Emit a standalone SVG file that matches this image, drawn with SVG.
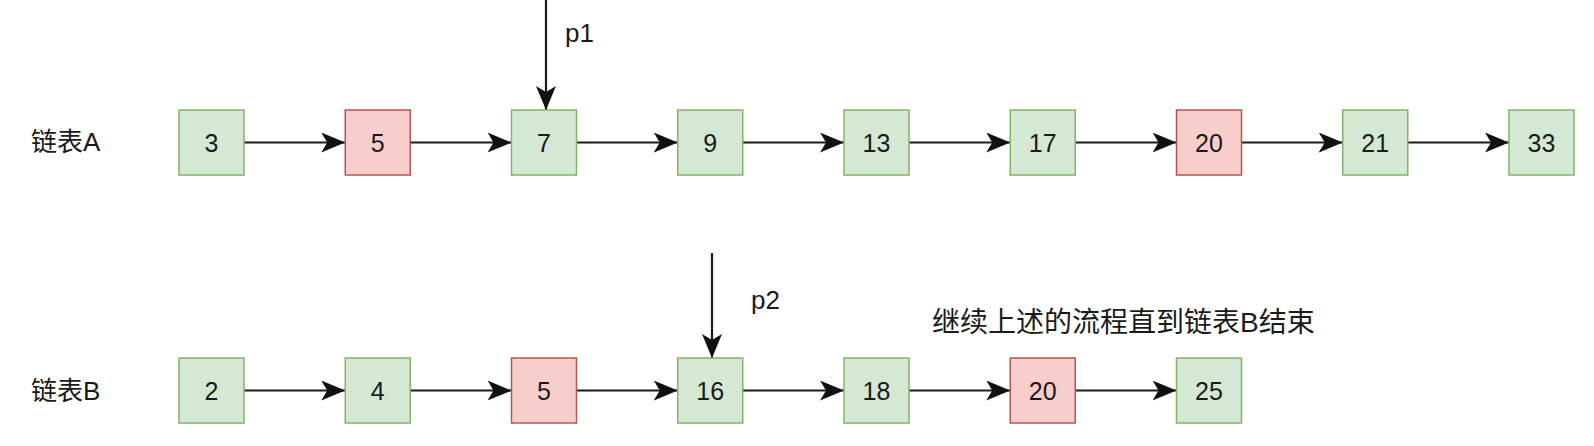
<svg xmlns="http://www.w3.org/2000/svg" width="1594" height="446" viewBox="0 0 1594 446">
<defs>
<marker id="arr" markerUnits="userSpaceOnUse" markerWidth="26" markerHeight="22" refX="24" refY="10" orient="auto">
<path d="M0,0 L24,10 L0,20 L6,10 Z" fill="#111"/>
</marker>
<style>
.g rect{fill:#d5e8d4;stroke:#82b366;stroke-width:1.5}
.r rect{fill:#f8cecc;stroke:#b85450;stroke-width:1.5}
.n text{font-family:"Liberation Sans",Arial,sans-serif;font-size:25px;fill:#1a1a1a;text-anchor:middle;dominant-baseline:central}
.lbl{font-family:"Liberation Sans","Noto Sans CJK SC",sans-serif;font-size:26px;fill:#1a1a1a;dominant-baseline:central}
.e line{stroke:#1a1a1a;stroke-width:2.2;marker-end:url(#arr)}
</style>
</defs>
<rect width="1594" height="446" fill="#fff"/>
<text class="lbl" x="31" y="142">链表A</text>
<text class="lbl" x="31" y="391">链表B</text>
<text class="lbl" x="565" y="33">p1</text>
<text class="lbl" x="751" y="300">p2</text>
<text class="lbl" x="932" y="322" style="font-size:28px">继续上述的流程直到链表B结束</text>
<g id="connectors" class="e">
<line x1="546" y1="0" x2="546" y2="110"/>
<line x1="712" y1="253" x2="712" y2="358"/>
<line x1="244" y1="142.5" x2="345.25" y2="142.5"/>
<line x1="410.25" y1="142.5" x2="511.5" y2="142.5"/>
<line x1="576.5" y1="142.5" x2="677.75" y2="142.5"/>
<line x1="742.75" y1="142.5" x2="844" y2="142.5"/>
<line x1="909" y1="142.5" x2="1010.25" y2="142.5"/>
<line x1="1075.25" y1="142.5" x2="1176.5" y2="142.5"/>
<line x1="1241.5" y1="142.5" x2="1342.75" y2="142.5"/>
<line x1="1407.75" y1="142.5" x2="1509" y2="142.5"/>
<line x1="244" y1="390.5" x2="345.25" y2="390.5"/>
<line x1="410.25" y1="390.5" x2="511.5" y2="390.5"/>
<line x1="576.5" y1="390.5" x2="677.75" y2="390.5"/>
<line x1="742.75" y1="390.5" x2="844" y2="390.5"/>
<line x1="909" y1="390.5" x2="1010.25" y2="390.5"/>
<line x1="1075.25" y1="390.5" x2="1176.5" y2="390.5"/>
</g>
<g id="a3" class="n g"><rect x="179" y="110" width="65" height="65"/><text x="211.5" y="142.5">3</text></g>
<g id="a5" class="n r"><rect x="345.25" y="110" width="65" height="65"/><text x="377.75" y="142.5">5</text></g>
<g id="a7" class="n g"><rect x="511.5" y="110" width="65" height="65"/><text x="544" y="142.5">7</text></g>
<g id="a9" class="n g"><rect x="677.75" y="110" width="65" height="65"/><text x="710.25" y="142.5">9</text></g>
<g id="a13" class="n g"><rect x="844" y="110" width="65" height="65"/><text x="876.5" y="142.5">13</text></g>
<g id="a17" class="n g"><rect x="1010.25" y="110" width="65" height="65"/><text x="1042.75" y="142.5">17</text></g>
<g id="a20" class="n r"><rect x="1176.5" y="110" width="65" height="65"/><text x="1209" y="142.5">20</text></g>
<g id="a21" class="n g"><rect x="1342.75" y="110" width="65" height="65"/><text x="1375.25" y="142.5">21</text></g>
<g id="a33" class="n g"><rect x="1509" y="110" width="65" height="65"/><text x="1541.5" y="142.5">33</text></g>
<g id="b2" class="n g"><rect x="179" y="358" width="65" height="65"/><text x="211.5" y="390.5">2</text></g>
<g id="b4" class="n g"><rect x="345.25" y="358" width="65" height="65"/><text x="377.75" y="390.5">4</text></g>
<g id="b5" class="n r"><rect x="511.5" y="358" width="65" height="65"/><text x="544" y="390.5">5</text></g>
<g id="b16" class="n g"><rect x="677.75" y="358" width="65" height="65"/><text x="710.25" y="390.5">16</text></g>
<g id="b18" class="n g"><rect x="844" y="358" width="65" height="65"/><text x="876.5" y="390.5">18</text></g>
<g id="b20" class="n r"><rect x="1010.25" y="358" width="65" height="65"/><text x="1042.75" y="390.5">20</text></g>
<g id="b25" class="n g"><rect x="1176.5" y="358" width="65" height="65"/><text x="1209" y="390.5">25</text></g>
</svg>
